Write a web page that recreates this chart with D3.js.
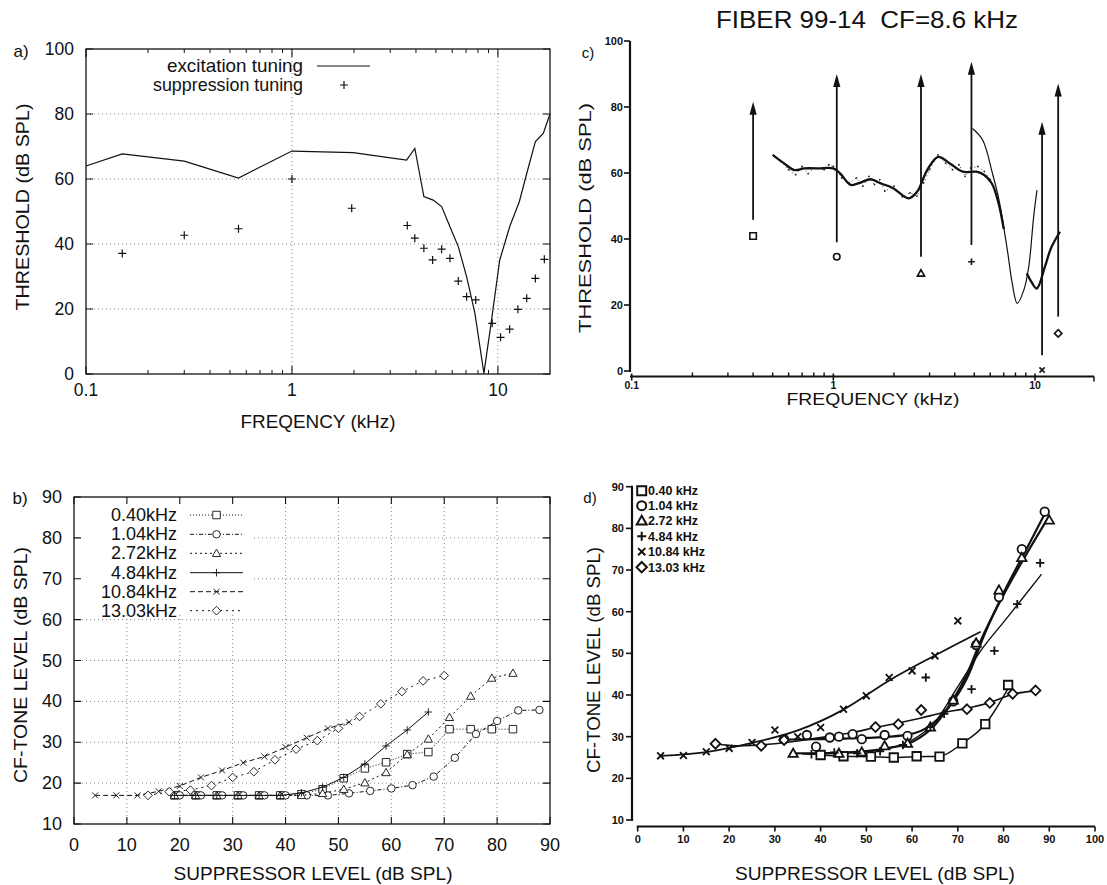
<!DOCTYPE html>
<html><head><meta charset="utf-8">
<script src="https://cdn.jsdelivr.net/npm/d3@7"></script>
<style>
body{margin:0;background:#fff}
svg{display:block}
text{font-family:"Liberation Sans",Arial,Helvetica,sans-serif;fill:#111}
</style>
</head><body>
<svg id="fig" width="1107" height="885"></svg>
<script>
// ---------------- DATA ----------------
// Panel a
const excFreq = [0.1, 0.15, 0.30, 0.55, 1.0, 1.98, 3.6, 3.95, 4.37, 4.85, 5.33, 5.85, 6.42, 7.05, 7.73, 8.55, 9.31, 10.2, 11.4, 12.7, 13.8, 15.2, 16.6, 17.9];
const excThr  = [64, 67.7, 65.5, 60.3, 68.6, 68.1, 65.8, 69.4, 54.6, 53.5, 51.5, 45.3, 39.2, 29.9, 18.7, 0.2, 16.6, 35, 45.3, 53, 61.7, 71.5, 74, 80];
const supFreq = [0.15, 0.30, 0.55, 1.0, 1.95, 3.63, 3.95, 4.37, 4.82, 5.33, 5.85, 6.42, 7.05, 7.8, 9.38, 10.3, 11.4, 12.5, 13.8, 15.2, 16.8];
const supThr  = [37.1, 42.7, 44.7, 60, 51, 45.7, 41.8, 38.7, 35.1, 38.4, 35.6, 28.6, 23.8, 22.8, 15.6, 11.3, 13.8, 19.9, 23.3, 29.4, 35.3];
const aYTicks = [0, 20, 40, 60, 80, 100];
const aXTicks = [0.1, 1, 10];

// Panel b / d series labels and markers
const seriesLabelsB = ["0.40kHz", "1.04kHz", "2.72kHz", "4.84kHz", "10.84kHz", "13.03kHz"];
const seriesLabelsD = ["0.40 kHz", "1.04 kHz", "2.72 kHz", "4.84 kHz", "10.84 kHz", "13.03 kHz"];
const seriesMarkers = ["square", "circle", "triangle", "plus", "cross", "diamond"];

// Panel b: [suppressor level, CF-tone level]
const b040  = [[19,17],[23,17],[27,17],[31,17],[35,17],[39,17],[43,17.3],[47,18.5],[51,21.2],[55,23.6],[59,25.1],[63,27.1],[67,27.6],[71,33.2],[75,33.2],[79,33.2],[83,33.2]];
const b104  = [[20,17],[24,17],[28,17],[32,17],[36,17],[40,17],[44,17],[48,17],[52,17.5],[56,18.1],[60,18.7],[64,19.5],[68,21.6],[72,26.2],[76,32],[80,35.2],[84,37.8],[88,37.9]];
const b272  = [[19,17],[23,17],[27,17],[31,17],[35,17],[39,17],[43,17],[47,17.5],[51,18.5],[55,20.1],[59,22.6],[63,27],[67,30.8],[71,36.1],[75,41.3],[79,45.7],[83,46.9]];
const b484  = [[19,17],[23,17],[27,17],[31,17],[35,17],[39,17],[43,17.6],[47,19],[51,21.4],[55,24.7],[59,29.1],[63,33],[67,37.4]];
const b1084 = [[4,17],[8,17],[12,17],[16,18],[20,19.3],[24,21.4],[28,23.1],[32,25],[36,26.5],[40,28.8],[44,31.1],[48,33.4],[52,34.9]];
const b1303 = [[14,17],[18,17.9],[22,18.3],[26,19.4],[30,21.4],[34,22.8],[38,25.7],[42,28.3],[46,30.4],[50,33.4],[54,36.3],[58,39.4],[62,42.4],[66,45],[70,46.3]];
const bXTicks = [0,10,20,30,40,50,60,70,80,90];
const bYTicks = [10,20,30,40,50,60,70,80,90];

// Panel c
const arrowFreq   = [0.40, 1.04, 2.72, 4.84, 10.84, 13.03];
const arrowTop    = [81.6, 90, 90, 93.7, 75.5, 87.1];
const arrowBottom = [45.8, 39, 34.6, 38.2, 4.8, 16.5];
const supThrC     = [40.9, 34.6, 29.6, 33.1, 0.3, 11.4];
const smoothFreq  = [0.50,0.57,0.64,0.72,0.84,1.0,1.08,1.22,1.36,1.53,1.71,1.98,2.36,2.6,2.92,3.31,3.78,4.38,5.12,5.6,6.1,6.6,7.0];
const smoothThr   = [65.5,62.9,60.9,61.4,61.4,61.4,59.9,56.4,57.1,58.1,56.9,55.4,52.3,54.3,60.9,64.9,62.9,60.4,60.4,59.4,56.9,50.8,43];
const smooth2Freq = [9.1, 9.6, 10.2, 11.2, 12.0, 13.3];
const smooth2Thr  = [29.6, 27, 25, 31.6, 37.2, 42.2];
const excCFreq    = [4.9, 5.5, 6.15, 6.63, 7.29, 7.71, 8.16, 8.8, 9.31, 9.85, 10.23];
const excCThr     = [73.5, 70, 59.9, 51.8, 36.7, 26.6, 20.5, 24.5, 31.6, 46.8, 54.8];
const rawFreq     = [0.55,0.6,0.65,0.7,0.75,0.8,0.9,0.95,1.0,1.05,1.1,1.2,1.3,1.4,1.5,1.6,1.7,1.8,2.0,2.2,2.4,2.6,2.8,3.0,3.3,3.6,3.9,4.2,4.5,4.8,5.2,5.6,6.0];
const rawThr      = [63.5,61,59.5,62,59.8,61.5,61,62.5,62,60.5,58.5,57,58.5,56,59,56.5,58,54.5,56,52.8,54,53,57,61,65.5,63,61,62.5,59,61.5,62,60.5,58];
const cYTicks = [0,20,40,60,80,100];
const cXTicks = [0.1, 1, 10];

// Panel d: data points
const d040  = [[40,25.6],[45,25.3],[51,25.2],[56,25],[61,25.3],[66,25.2],[71,28.4],[76,33],[81,42.4]];
const d104  = [[32,29.4],[37,30.4],[39,27.6],[42,29.8],[44,30],[47,30.6],[49,29.4],[54,30.4],[59,30.2],[69,38.5],[74,52],[79,63.5],[84,75],[89,84]];
const d272  = [[34,26],[44,26],[49,26.3],[54,27.8],[59,28.4],[64,32.3],[69,38.8],[74,52.5],[79,65.2],[84,73],[90,82]];
const d484  = [[38,25.8],[43,26.2],[48,26],[53,26.5],[58,28],[63,44.2],[64,32.3],[67,35.5],[73,41.4],[78,50.6],[83,61.8],[88,71.7]];
const d1084 = [[5,25.4],[10,25.5],[15,26.4],[20,27.2],[25,28.6],[30,31.6],[35,30],[40,32.2],[45,36.6],[50,39.8],[55,44.2],[60,45.8],[65,49.4],[70,57.8]];
const d1303 = [[17,28.3],[27,27.8],[32,29.2],[52,32.3],[57,33],[62,36.4],[72,36.6],[77,38.1],[82,40.3],[87,41.1]];
// Panel d: fitted curves
const fit040  = [[40,25.6],[45,25.3],[51,25.2],[56,25],[61,25.2],[66,25.3],[71,28.4],[76,33],[81,41.6]];
const fit104  = [[32,29.3],[40,29.4],[50,29.7],[58,30.3],[63,32],[68,37],[72,44],[76,55],[80,64.5],[85,75],[89.5,84.5]];
const fit272  = [[34,26],[45,26.2],[55,27.3],[60,28.7],[65,32.8],[69,39],[72,45],[75,53],[80,64],[85,73.8],[90,83]];
const fit484  = [[36,25.8],[45,26],[55,27.2],[60,29.2],[65,33.5],[70,42],[75,50.6],[80,57.5],[83,61.6],[88.3,69]];
const fit1084 = [[5,25.4],[15,26.3],[25,28.5],[35,31.5],[45,36.5],[55,43.5],[65,49.5],[75,55.2]];
const fit1303 = [[17,28.3],[22,27.8],[30,28.3],[40,29.8],[47,31],[52,32.2],[57,33.3],[62,34.5],[67,35.8],[72,36.8],[77,38.2],[82,40.2],[87,41]];
const dXTicks = [0,10,20,30,40,50,60,70,80,90,100];
const dYTicks = [10,20,30,40,50,60,70,80,90];

// ---------------- DRAWING ----------------
const svg = d3.select("#fig");
const ink = "#111";

function marker(g, type, x, y, s, sw, fillCol) {
  const h = s / 2;
  let p;
  switch (type) {
    case "square": p = `M${x-h},${y-h}H${x+h}V${y+h}H${x-h}Z`; break;
    case "circle": g.append("circle").attr("cx", x).attr("cy", y).attr("r", h)
        .attr("fill", fillCol).attr("stroke", ink).attr("stroke-width", sw); return;
    case "triangle": p = `M${x},${y-h*1.1}L${x+h*1.1},${y+h*0.85}L${x-h*1.1},${y+h*0.85}Z`; break;
    case "plus": p = `M${x-h},${y}H${x+h}M${x},${y-h}V${y+h}`; break;
    case "cross": p = `M${x-h*0.8},${y-h*0.8}L${x+h*0.8},${y+h*0.8}M${x+h*0.8},${y-h*0.8}L${x-h*0.8},${y+h*0.8}`; break;
    case "diamond": p = `M${x},${y-h*1.15}L${x+h*1.15},${y}L${x},${y+h*1.15}L${x-h*1.15},${y}Z`; break;
  }
  g.append("path").attr("d", p).attr("fill", (type === "plus" || type === "cross") ? "none" : fillCol)
    .attr("stroke", ink).attr("stroke-width", sw);
}

function txt(g, x, y, s, size, anchor, opts = {}) {
  const t = g.append("text").attr("x", x).attr("y", y).attr("font-size", size)
    .attr("text-anchor", anchor || "start").text(s);
  if (opts.bold) t.attr("font-weight", "bold");
  if (opts.rotate) t.attr("transform", `rotate(-90,${x},${y})`);
  if (opts.pre) t.style("white-space", "pre");
  if (opts.len) t.attr("textLength", opts.len).attr("lengthAdjust", "spacingAndGlyphs");
  return t;
}

// ===== Panel a =====
(function () {
  const g = svg.append("g");
  const x = d3.scaleLog().domain([0.1, 17.9]).range([86, 550]);
  const y = d3.scaleLinear().domain([0, 100]).range([374, 49]);
  const [x0, x1] = x.range(), [y0, y1] = y.range();
  aYTicks.filter(v => v > 0 && v < 100).forEach(v => {
    g.append("line").attr("x1", x0).attr("x2", x1).attr("y1", y(v)).attr("y2", y(v))
      .attr("stroke", "#777").attr("stroke-width", 0.9).attr("stroke-dasharray", "1,3");
  });
  [1, 10].forEach(v => {
    g.append("line").attr("x1", x(v)).attr("x2", x(v)).attr("y1", y0).attr("y2", y1)
      .attr("stroke", "#777").attr("stroke-width", 0.9).attr("stroke-dasharray", "1,3");
  });
  g.append("rect").attr("x", x0).attr("y", y1).attr("width", x1 - x0).attr("height", y0 - y1)
    .attr("fill", "none").attr("stroke", ink).attr("stroke-width", 1.3);
  aYTicks.forEach(v => {
    g.append("path").attr("d", `M${x0},${y(v)}h7M${x1},${y(v)}h-7`).attr("stroke", ink).attr("stroke-width", 1.1);
    txt(g, 74, y(v) + 6, v, 17.5, "end");
  });
  const minor = [];
  [0.1, 1, 10].forEach(dec => { for (let k = 2; k <= 9; k++) { const v = dec * k; if (v < 17.9) minor.push(v); } });
  minor.forEach(v => {
    g.append("path").attr("d", `M${x(v)},${y0}v-4M${x(v)},${y1}v4`).attr("stroke", ink).attr("stroke-width", 1);
  });
  aXTicks.forEach(v => {
    g.append("path").attr("d", `M${x(v)},${y0}v-8M${x(v)},${y1}v8`).attr("stroke", ink).attr("stroke-width", 1.1);
    txt(g, x(v), 396, v, 17.5, "middle");
  });
  const line = d3.line().x(d => x(d[0])).y(d => y(d[1]));
  g.append("path").attr("d", line(excFreq.map((f, i) => [f, excThr[i]])))
    .attr("fill", "none").attr("stroke", ink).attr("stroke-width", 1.2);
  supFreq.forEach((f, i) => marker(g, "plus", x(f), y(supThr[i]), 8, 1.2, "none"));
  txt(g, 303, 72, "excitation tuning", 18.5, "end", { len: 136 });
  txt(g, 303, 91, "suppression tuning", 18.5, "end", { len: 150 });
  g.append("line").attr("x1", 317).attr("x2", 370).attr("y1", 66).attr("y2", 66).attr("stroke", ink).attr("stroke-width", 1.2);
  marker(g, "plus", 344, 85, 8, 1.2, "none");
  txt(g, 21, 57, "a)", 17, "middle");
  txt(g, 318, 428, "FREQENCY (kHz)", 18.5, "middle", { len: 155 });
  txt(g, 29, 207, "THRESHOLD (dB SPL)", 18.5, "middle", { rotate: true, len: 207 });
})();

// ===== Panel b =====
(function () {
  const g = svg.append("g");
  const x = d3.scaleLinear().domain([0, 90]).range([74, 550]);
  const y = d3.scaleLinear().domain([10, 90]).range([824, 497]);
  const [x0, x1] = x.range(), [y0, y1] = y.range();
  bYTicks.filter(v => v > 10 && v < 90).forEach(v => {
    g.append("line").attr("x1", x0).attr("x2", x1).attr("y1", y(v)).attr("y2", y(v))
      .attr("stroke", "#777").attr("stroke-width", 0.9).attr("stroke-dasharray", "1,3");
  });
  bXTicks.filter(v => v > 0 && v < 90).forEach(v => {
    g.append("line").attr("x1", x(v)).attr("x2", x(v)).attr("y1", y0).attr("y2", y1)
      .attr("stroke", "#777").attr("stroke-width", 0.9).attr("stroke-dasharray", "1,3");
  });
  g.append("rect").attr("x", x0 + 1).attr("y", y1 + 1).attr("width", 178).attr("height", 115).attr("fill", "#fff");
  g.append("rect").attr("x", x0).attr("y", y1).attr("width", x1 - x0).attr("height", y0 - y1)
    .attr("fill", "none").attr("stroke", ink).attr("stroke-width", 1.3);
  bYTicks.forEach(v => {
    g.append("path").attr("d", `M${x0},${y(v)}h7M${x1},${y(v)}h-7`).attr("stroke", ink).attr("stroke-width", 1.1);
    txt(g, 62, y(v) + 6, v, 18, "end");
  });
  bXTicks.forEach(v => {
    g.append("path").attr("d", `M${x(v)},${y0}v-7M${x(v)},${y1}v7`).attr("stroke", ink).attr("stroke-width", 1.1);
    txt(g, x(v), 851, v, 18, "middle");
  });
  const series = [b040, b104, b272, b484, b1084, b1303];
  const dashes = ["1,2", "4,2,1,2", "2,3", null, "5,3", "2,4"];
  const line = d3.line().x(d => x(d[0])).y(d => y(d[1]));
  series.forEach((s, i) => {
    const p = g.append("path").attr("d", line(s)).attr("fill", "none").attr("stroke", ink).attr("stroke-width", 1);
    if (dashes[i]) p.attr("stroke-dasharray", dashes[i]);
    s.forEach(d => marker(g, seriesMarkers[i], x(d[0]), y(d[1]), 7.5, 0.9, "#fff"));
  });
  const rows = [515, 534.3, 553.3, 572.7, 591.7, 610.7];
  seriesLabelsB.forEach((lab, i) => {
    txt(g, 177, rows[i] + 6, lab, 18, "end");
    const l = g.append("line").attr("x1", 190).attr("x2", 243).attr("y1", rows[i]).attr("y2", rows[i]).attr("stroke", ink).attr("stroke-width", 1);
    if (dashes[i]) l.attr("stroke-dasharray", dashes[i]);
    marker(g, seriesMarkers[i], 216.5, rows[i], 7.5, 0.9, "#fff");
  });
  txt(g, 20, 504, "b)", 17, "middle");
  txt(g, 313, 880, "SUPPRESSOR LEVEL (dB SPL)", 19, "middle", { len: 279 });
  txt(g, 27, 665, "CF-TONE LEVEL (dB SPL)", 19, "middle", { rotate: true, len: 236 });
})();

// ===== Panel c =====
(function () {
  const g = svg.append("g");
  const x = d3.scaleLog().domain([0.1, 10]).range([631.7, 1035]);
  const y = d3.scaleLinear().domain([0, 100]).range([371, 41]);
  g.append("line").attr("x1", 630).attr("x2", 630).attr("y1", y(100)).attr("y2", y(0) + 1).attr("stroke", ink).attr("stroke-width", 2.2);
  cYTicks.forEach(v => {
    g.append("line").attr("x1", 624).attr("x2", 630).attr("y1", y(v)).attr("y2", y(v)).attr("stroke", ink).attr("stroke-width", 1.6);
    txt(g, 623, y(v) + 4, v, 11, "end", { bold: true });
  });
  const ax = 376.5;
  g.append("line").attr("x1", 630).attr("x2", 1094).attr("y1", ax).attr("y2", ax).attr("stroke", ink).attr("stroke-width", 2.2);
  g.append("line").attr("x1", 1094).attr("x2", 1094).attr("y1", ax).attr("y2", ax + 5).attr("stroke", ink).attr("stroke-width", 1.5);
  const minor = [];
  [0.1, 1, 10].forEach(dec => { for (let k = 2; k <= 9; k++) { const v = dec * k; if (x(v) < 1092) minor.push(v); } });
  minor.forEach(v => g.append("line").attr("x1", x(v)).attr("x2", x(v)).attr("y1", ax).attr("y2", ax - 4).attr("stroke", ink).attr("stroke-width", 1.4));
  cXTicks.forEach(v => {
    g.append("line").attr("x1", x(v)).attr("x2", x(v)).attr("y1", ax - 3).attr("y2", ax + 4).attr("stroke", ink).attr("stroke-width", 1.6);
    txt(g, x(v), 389, v, 10.5, "middle", { bold: true });
  });
  const line = d3.line().x(d => x(d[0])).y(d => y(d[1]));
  const raw = rawFreq.map((f, i) => [f, rawThr[i]]);
  g.append("path").attr("d", line(raw)).attr("fill", "none").attr("stroke", "#333").attr("stroke-width", 1).attr("stroke-dasharray", "1,3");
  raw.forEach(d => g.append("circle").attr("cx", x(d[0])).attr("cy", y(d[1])).attr("r", 0.9).attr("fill", "#222"));
  const sm = d3.line().x(d => x(d[0])).y(d => y(d[1])).curve(d3.curveCatmullRom);
  g.append("path").attr("d", sm(smoothFreq.map((f, i) => [f, smoothThr[i]]))).attr("fill", "none").attr("stroke", ink).attr("stroke-width", 2.3);
  g.append("path").attr("d", sm(smooth2Freq.map((f, i) => [f, smooth2Thr[i]]))).attr("fill", "none").attr("stroke", ink).attr("stroke-width", 2.3);
  g.append("path").attr("d", sm(excCFreq.map((f, i) => [f, excCThr[i]]))).attr("fill", "none").attr("stroke", ink).attr("stroke-width", 1.2);
  arrowFreq.forEach((f, i) => {
    const xx = x(f);
    g.append("line").attr("x1", xx).attr("x2", xx).attr("y1", y(arrowBottom[i])).attr("y2", y(arrowTop[i]) + 8).attr("stroke", ink).attr("stroke-width", 1.8);
    const t = y(arrowTop[i]);
    g.append("path").attr("d", `M${xx},${t}L${xx + 3.6},${t + 13}L${xx - 3.6},${t + 13}Z`).attr("fill", ink);
    marker(g, seriesMarkers[i], xx, y(supThrC[i]), 6.5, 1.6, "#fff");
  });
  txt(g, 867, 28, "FIBER 99-14  CF=8.6 kHz", 24, "middle", { pre: true, len: 302 });
  txt(g, 588, 58, "c)", 15, "middle");
  txt(g, 873, 405, "FREQUENCY (kHz)", 16, "middle", { len: 173 });
  txt(g, 591, 218, "THRESHOLD (dB SPL)", 16.5, "middle", { rotate: true, len: 230 });
})();

// ===== Panel d =====
(function () {
  const g = svg.append("g");
  const x = d3.scaleLinear().domain([0, 100]).range([637.7, 1095]);
  const y = d3.scaleLinear().domain([10, 90]).range([820, 486.7]);
  g.append("line").attr("x1", 632).attr("x2", 632).attr("y1", y(90) - 1).attr("y2", y(10) + 1).attr("stroke", ink).attr("stroke-width", 2.2);
  dYTicks.forEach(v => {
    g.append("line").attr("x1", 626).attr("x2", 632).attr("y1", y(v)).attr("y2", y(v)).attr("stroke", ink).attr("stroke-width", 1.6);
    txt(g, 624, y(v) + 4, v, 11, "end", { bold: true });
  });
  const ax = 826.5;
  g.append("line").attr("x1", x(0) - 1).attr("x2", x(100)).attr("y1", ax).attr("y2", ax).attr("stroke", ink).attr("stroke-width", 2.2);
  dXTicks.forEach(v => {
    g.append("line").attr("x1", x(v)).attr("x2", x(v)).attr("y1", ax).attr("y2", ax + 5).attr("stroke", ink).attr("stroke-width", 1.6);
    txt(g, x(v), 843, v, 11, "middle", { bold: true });
  });
  const fits = [fit040, fit104, fit272, fit484, fit1084, fit1303];
  const pts = [d040, d104, d272, d484, d1084, d1303];
  const widths = [1.5, 2.2, 2.2, 1.4, 1.8, 1.6];
  const sm = d3.line().x(d => x(d[0])).y(d => y(d[1])).curve(d3.curveMonotoneX);
  fits.forEach((f, i) => {
    g.append("path").attr("d", sm(f)).attr("fill", "none").attr("stroke", ink).attr("stroke-width", widths[i]);
  });
  pts.forEach((s, i) => s.forEach(d => marker(g, seriesMarkers[i], x(d[0]), y(d[1]), 8.5, 1.8, "#fff")));
  const rows = [490.7, 505.7, 520.7, 536.2, 551.7, 567.2];
  seriesLabelsD.forEach((lab, i) => {
    marker(g, seriesMarkers[i], 641.7, rows[i], 9, 2, "#fff");
    txt(g, 648, rows[i] + 4.5, lab, 12.5, "start", { bold: true });
  });
  txt(g, 590, 503, "d)", 15, "middle");
  txt(g, 875, 880, "SUPPRESSOR LEVEL (dB SPL)", 18.5, "middle", { len: 280 });
  txt(g, 600, 660, "CF-TONE LEVEL (dB SPL)", 17.5, "middle", { rotate: true, len: 226 });
})();
</script>
</body></html>
